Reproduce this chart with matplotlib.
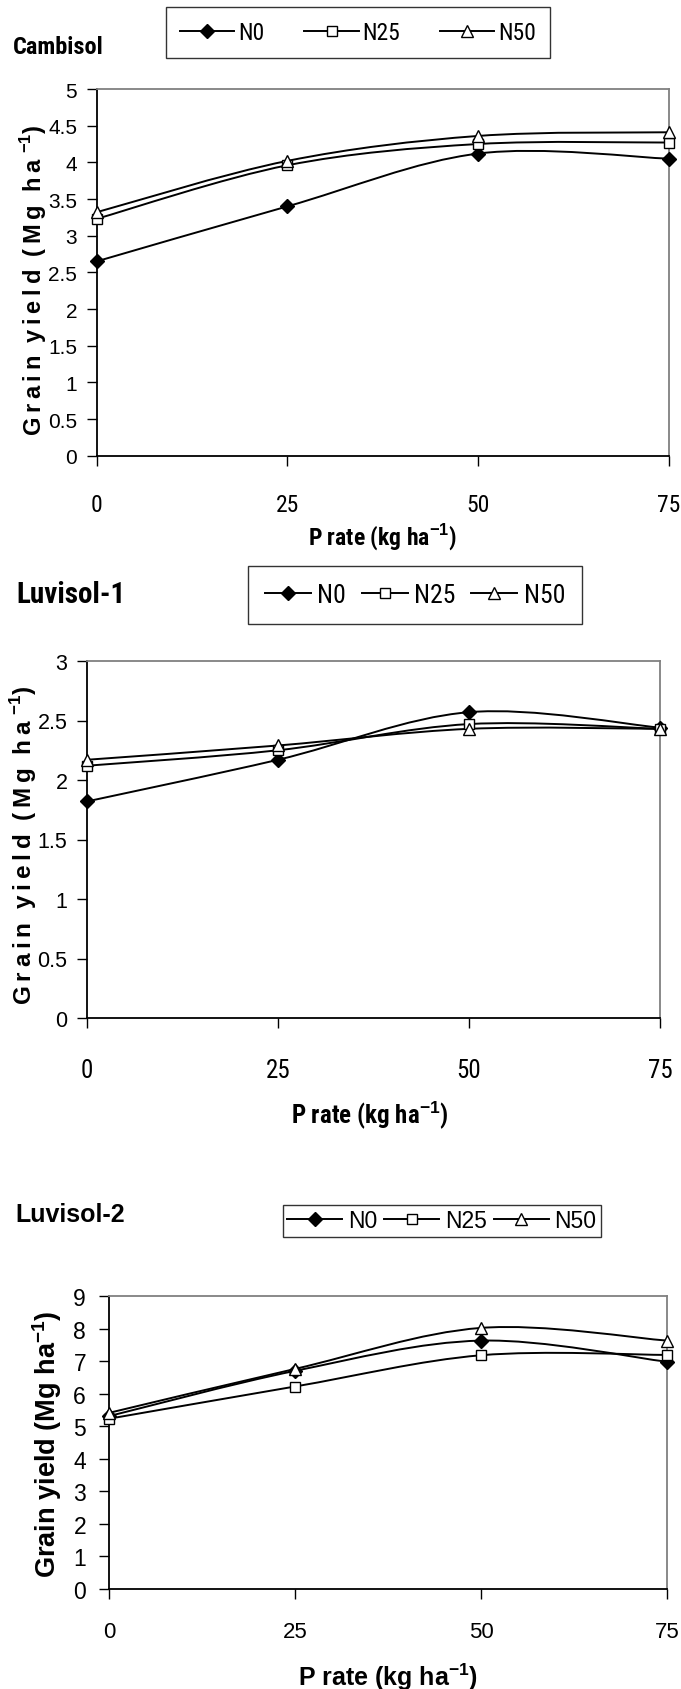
import matplotlib
matplotlib.use("Agg")
import matplotlib.pyplot as plt
from matplotlib import font_manager as fm
from matplotlib.font_manager import FontProperties
from matplotlib.path import Path
from matplotlib.patches import PathPatch
from matplotlib.lines import Line2D

plt.rcParams['mathtext.fontset'] = 'custom'
plt.rcParams['mathtext.rm'] = 'Liberation Sans'
plt.rcParams['mathtext.bf'] = 'Liberation Sans:bold'

# pick a narrow font if one is around
have = {(f.name, f.stretch) for f in fm.fontManager.ttflist}
names = {n for n, s in have}
narrow_family, narrow_stretch, narrow_ok = 'Liberation Sans', 'normal', False
for fam, st in [('Liberation Sans Narrow', 'normal'), ('Arial Narrow', 'normal'),
                ('Roboto Condensed', 'normal'), ('Open Sans Condensed', 'normal'),
                ('Noto Sans', 'condensed'), ('DejaVu Sans', 'condensed'),
                ('Open Sans', 'condensed'), ('Roboto', 'condensed')]:
    if st == 'normal' and fam in names:
        narrow_family, narrow_stretch, narrow_ok = fam, st, True
        break
    if st != 'normal' and (fam, st) in have:
        narrow_family, narrow_stretch, narrow_ok = fam, st, True
        break
NSCALE = 1.0 if narrow_ok else 0.9

# data
p_rate = [0, 25, 50, 75]
series = ['N0', 'N25', 'N50']

cambisol_n0 = [2.65, 3.40, 4.12, 4.05]
cambisol_n25 = [3.23, 3.96, 4.25, 4.27]
cambisol_n50 = [3.32, 4.02, 4.36, 4.41]

luvisol1_n0 = [1.82, 2.17, 2.57, 2.44]
luvisol1_n25 = [2.12, 2.25, 2.47, 2.43]
luvisol1_n50 = [2.17, 2.29, 2.43, 2.43]

luvisol2_n0 = [5.31, 6.70, 7.63, 6.98]
luvisol2_n25 = [5.23, 6.22, 7.18, 7.19]
luvisol2_n50 = [5.41, 6.76, 8.02, 7.63]

W, H = 681, 1690
fig = plt.figure(figsize=(W / 100, H / 100), dpi=100)

marker_style = {
    'N0': dict(marker='D', markersize=7, markerfacecolor='black', markeredgecolor='black'),
    'N25': dict(marker='s', markersize=7, markerfacecolor='white', markeredgecolor='black', markeredgewidth=1),
    'N50': dict(marker='^', markersize=9, markerfacecolor='white', markeredgecolor='black', markeredgewidth=1),
}


def narrow(size, weight='normal'):
    return FontProperties(family=[narrow_family, 'DejaVu Sans'], stretch=narrow_stretch,
                          weight=weight, size=size * NSCALE)


def arial(size, weight='normal'):
    return FontProperties(family=['Liberation Sans', 'DejaVu Sans'], weight=weight, size=size)


def fx(px):
    return px / W


def fy(py):
    return 1 - py / H


def smooth_line(ax, x, y):
    # excel style smoothed line (catmull-rom as bezier)
    n = len(x)
    verts = [(x[0], y[0])]
    codes = [Path.MOVETO]
    for i in range(n - 1):
        a = i - 1 if i > 0 else i
        d = i + 2 if i + 2 < n else i + 1
        c1 = (x[i] + (x[i + 1] - x[a]) / 6, y[i] + (y[i + 1] - y[a]) / 6)
        c2 = (x[i + 1] - (x[d] - x[i]) / 6, y[i + 1] - (y[d] - y[i]) / 6)
        verts += [c1, c2, (x[i + 1], y[i + 1])]
        codes += [Path.CURVE4] * 3
    ax.add_patch(PathPatch(Path(verts, codes), fill=False, edgecolor='black', lw=1.4, zorder=2))


def panel(rect, data, ymax, ystep, xfont, yfont, xpad, ypad):
    l, t, r, b = rect
    ax = fig.add_axes([fx(l), fy(b), fx(r - l), (b - t) / H])
    for name, vals in zip(series, data):
        smooth_line(ax, p_rate, vals)
        ax.plot(p_rate, vals, linestyle='none', zorder=3, clip_on=False, **marker_style[name])
    ax.set_xlim(0, 75)
    ax.set_ylim(0, ymax)
    ax.set_xticks(p_rate)
    yt = []
    v = 0
    while v <= ymax + 1e-9:
        yt.append(round(v, 2))
        v += ystep
    ax.set_yticks(yt)
    ax.set_yticklabels(['%g' % v for v in yt])
    for s in ['left', 'bottom']:
        ax.spines[s].set_color('black')
        ax.spines[s].set_linewidth(1.3)
    for s in ['top', 'right']:
        ax.spines[s].set_color('#808080')
        ax.spines[s].set_linewidth(1.3)
    ax.tick_params(axis='both', direction='out', length=7, width=1, color='black')
    ax.tick_params(axis='x', pad=xpad)
    ax.tick_params(axis='y', pad=ypad)
    for lab in ax.get_xticklabels():
        lab.set_fontproperties(xfont)
    for lab in ax.get_yticklabels():
        lab.set_fontproperties(yfont)
    return ax


def add_legend(cx, cy, font, hl, htp, cs, bp):
    handles = [Line2D([], [], color='black', lw=1.4, **marker_style[n]) for n in series]
    leg = fig.legend(handles, series, loc='center', bbox_to_anchor=(fx(cx), fy(cy)),
                     ncol=3, frameon=True, fancybox=False, shadow=False,
                     handlelength=hl, handletextpad=htp, columnspacing=cs,
                     borderpad=bp, borderaxespad=0, prop=font)
    leg.get_frame().set_edgecolor('black')
    leg.get_frame().set_linewidth(1)
    return leg


def spaced(word):
    return '\u2009'.join(word)


ylab_spaced = '  '.join(spaced(w) for w in ['Grain', 'yield', '(Mg', 'ha']) + r' $^{\mathbf{-1}}$)'
xlab = r'P rate (kg ha$^{\mathbf{-1}}$)'

# Cambisol
panel((96.7, 90, 669, 456.7), [cambisol_n0, cambisol_n25, cambisol_n50], 5, 0.5,
      narrow(17), arial(15), 20, 7)
add_legend(358, 33.5, narrow(17), 2.3, 0.15, 1.7, 0.6)
fig.text(fx(13), fy(48), 'Cambisol', fontproperties=narrow(17.5, 'bold'), ha='left', va='center')
fig.text(fx(383), fy(538), xlab, fontproperties=narrow(17, 'bold'), ha='center', va='center')
fig.text(fx(34), fy(280), ylab_spaced, fontproperties=arial(17, 'bold'), rotation=90,
         ha='center', va='center')

# Luvisol-1
panel((87, 662, 660, 1019), [luvisol1_n0, luvisol1_n25, luvisol1_n50], 3, 0.5,
      narrow(18), arial(15.5), 22, 7)
add_legend(415, 596, narrow(18.5), 1.8, 0.25, 0.6, 0.65)
fig.text(fx(16), fy(595), 'Luvisol-1', fontproperties=narrow(21, 'bold'), ha='left', va='center')
fig.text(fx(370), fy(1115), xlab, fontproperties=narrow(18, 'bold'), ha='center', va='center')
fig.text(fx(24), fy(845), ylab_spaced, fontproperties=arial(17.5, 'bold'), rotation=90,
         ha='center', va='center')

# Luvisol-2
panel((109, 1297, 667, 1590), [luvisol2_n0, luvisol2_n25, luvisol2_n50], 9, 1,
      arial(16), arial(16.5), 16, 9.5)
add_legend(442, 1222, arial(16.5), 2.4, 0.25, 0.3, 0.2)
fig.text(fx(15), fy(1215), 'Luvisol-2', fontproperties=arial(18, 'bold'), ha='left', va='center')
fig.text(fx(388), fy(1677), xlab, fontproperties=arial(18, 'bold'), ha='center', va='center')
fig.text(fx(47.5), fy(1444), r'Grain yield (Mg ha$^{\mathbf{-1}}$)', fontproperties=arial(19.5, 'bold'),
         rotation=90, ha='center', va='center')

fig.savefig('out.png', dpi=100)
